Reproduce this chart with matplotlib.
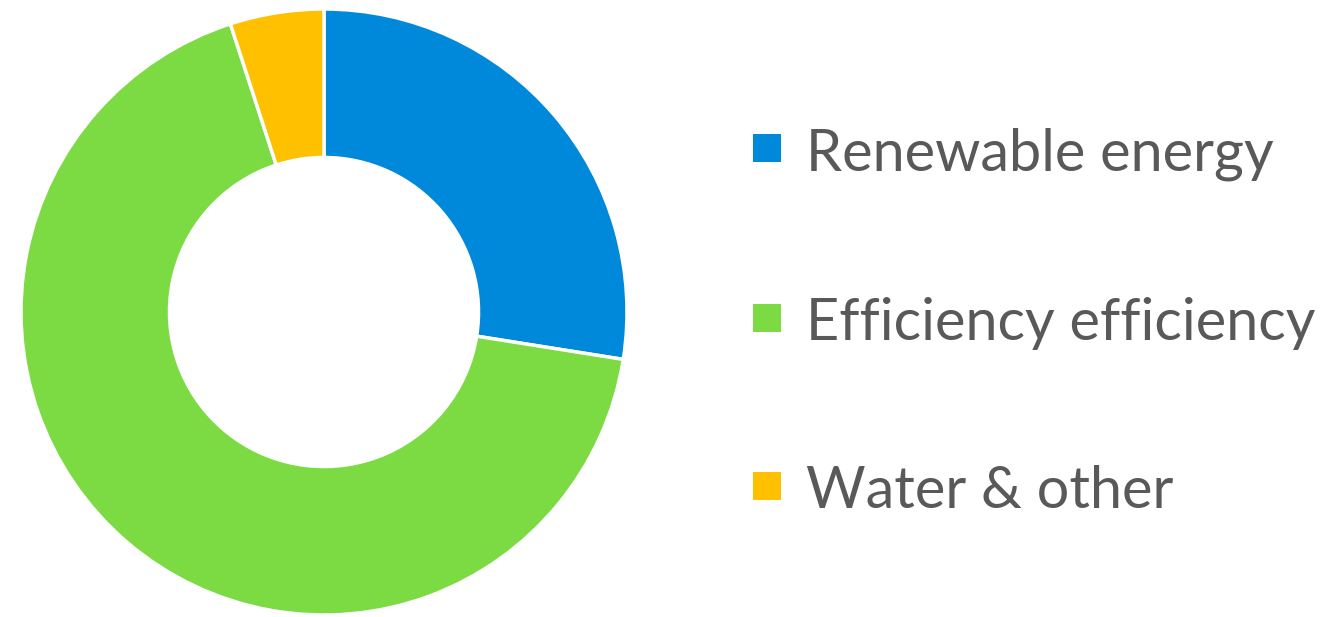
import matplotlib.pyplot as plt
from matplotlib.patches import Rectangle

labels = ["Renewable energy", "Efficiency efficiency", "Water & other"]
shares = [27.5, 67.5, 5.0]
colors = ["#0089DA", "#7CDA43", "#FFC000"]

W, H = 1322, 617
fig = plt.figure(figsize=(W / 100, H / 100), dpi=100)

# donut: center (324, 312) px, outer radius ~303 px
cx, cy, r = 324, 312, 303
ax = fig.add_axes([(cx - r) / W, (H - cy - r) / H, 2 * r / W, 2 * r / H])
ax.pie(shares, colors=colors, startangle=90, counterclock=False, radius=1,
       wedgeprops=dict(width=0.49, edgecolor="white", linewidth=2.5))
ax.set_xlim(-1, 1)
ax.set_ylim(-1, 1)
ax.set_aspect("equal")
ax.axis("off")

# legend entries
ys = [148, 318, 486]
for lab, col, y in zip(labels, colors, ys):
    fig.patches.append(Rectangle((753 / W, (H - y - 14) / H), 28 / W, 28 / H,
                                 transform=fig.transFigure, facecolor=col,
                                 edgecolor="none"))
    fig.text(806 / W, (H - y - 6) / H, lab, fontsize=41.5, family="Lato",
             color="#595959", va="center", ha="left")

fig.savefig("out.png", dpi=100, facecolor="white")
